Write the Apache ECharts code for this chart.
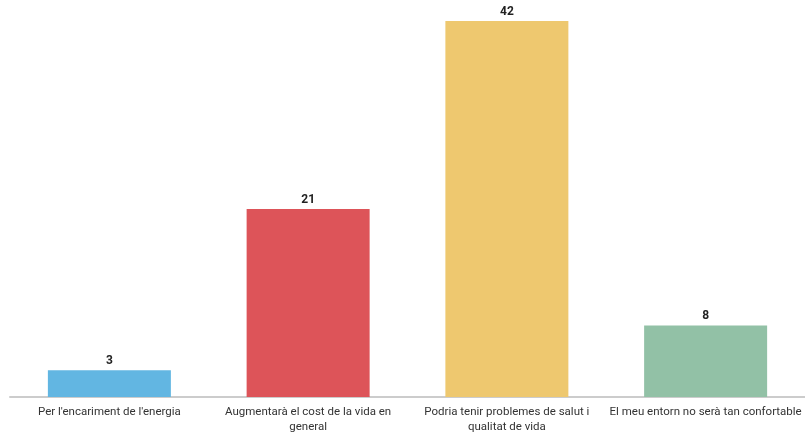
<!DOCTYPE html>
<html>
<head>
<meta charset="utf-8">
<script src="https://cdn.jsdelivr.net/npm/echarts@6/dist/echarts.min.js"></script>
<style>html,body{margin:0;padding:0;background:#fff;}#c{width:805px;height:435px;}</style>
</head>
<body>
<div id="c"></div>
<script>
const categories = [
  "Per l'encariment de l'energia",
  "Augmentarà el cost de la vida en\ngeneral",
  "Podria tenir problemes de salut i\nqualitat de vida",
  "El meu entorn no serà tan confortable"
];
const values = [3, 21, 42, 8];
const colors = ["#62B6E2", "#DD5459", "#EEC86F", "#92C1A6"];

const font = "'Roboto', sans-serif";
const chart = echarts.init(document.getElementById('c'));
chart.setOption({
  animation: false,
  grid: { left: 10, right: -10, top: 21, bottom: 35 },
  xAxis: {
    type: 'category',
    data: categories,
    axisTick: { show: false },
    axisLine: { lineStyle: { color: '#cccccc', width: 2 } },
    axisLabel: { interval: 0, color: '#333', fontSize: 11.5, fontFamily: font, lineHeight: 15, margin: 8 }
  },
  yAxis: { type: 'value', min: 0, max: 42, show: false, splitLine: { show: false } },
  series: [{
    type: 'bar',
    barWidth: 123,
    data: values.map((v, i) => ({ value: v, itemStyle: { color: colors[i] } })),
    label: { show: true, position: 'top', distance: 3, color: '#222', fontWeight: 'bold', fontSize: 12, fontFamily: font }
  }]
});
</script>
</body>
</html>
